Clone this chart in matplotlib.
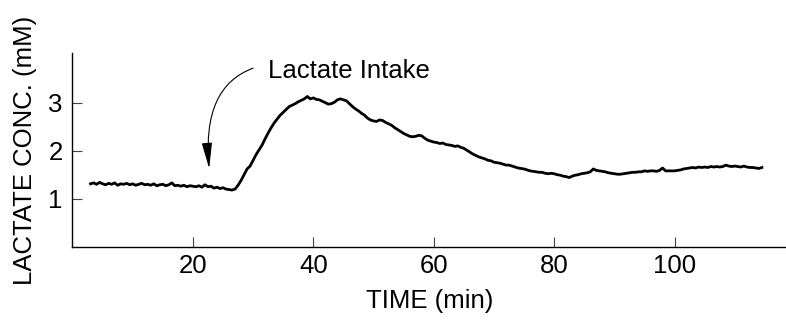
import numpy as np
import matplotlib
matplotlib.use("Agg")
import matplotlib.pyplot as plt

# sampling of the trace (minutes)
time_start = 3.0
time_step = 0.5

# lactate concentration (mM), every 0.5 min
conc = [
    # 3.0 - 14.5
    1.31, 1.33, 1.30, 1.34, 1.31, 1.29, 1.32, 1.30, 1.33, 1.28, 1.31, 1.30,
    1.32, 1.29, 1.31, 1.28, 1.30, 1.32, 1.29, 1.30, 1.28, 1.31, 1.27, 1.29,
    # 15.0 - 26.5
    1.30, 1.27, 1.29, 1.33, 1.27, 1.28, 1.26, 1.28, 1.25, 1.27, 1.26, 1.25,
    1.27, 1.24, 1.29, 1.25, 1.26, 1.22, 1.24, 1.21, 1.23, 1.20, 1.19, 1.18,
    # 27.0 - 38.5
    1.20, 1.28, 1.38, 1.50, 1.62, 1.68, 1.80, 1.92, 2.02, 2.12, 2.25, 2.37,
    2.48, 2.58, 2.66, 2.74, 2.80, 2.86, 2.92, 2.95, 2.98, 3.02, 3.05, 3.08,
    # 39.0 - 50.5
    3.13, 3.08, 3.10, 3.07, 3.06, 3.03, 3.00, 2.97, 2.98, 3.01, 3.06, 3.08,
    3.06, 3.04, 2.98, 2.92, 2.87, 2.83, 2.78, 2.74, 2.68, 2.64, 2.62, 2.61,
    # 51.0 - 62.5
    2.64, 2.63, 2.59, 2.56, 2.53, 2.48, 2.44, 2.40, 2.36, 2.33, 2.30, 2.29,
    2.30, 2.32, 2.31, 2.26, 2.22, 2.20, 2.18, 2.17, 2.15, 2.16, 2.13, 2.12,
    # 63.0 - 74.5
    2.11, 2.09, 2.10, 2.07, 2.05, 2.01, 1.97, 1.93, 1.90, 1.87, 1.85, 1.83,
    1.80, 1.79, 1.76, 1.75, 1.74, 1.72, 1.70, 1.70, 1.68, 1.66, 1.64, 1.63,
    # 75.0 - 86.5
    1.62, 1.60, 1.58, 1.57, 1.56, 1.55, 1.55, 1.53, 1.52, 1.53, 1.52, 1.50,
    1.49, 1.47, 1.46, 1.44, 1.47, 1.49, 1.50, 1.52, 1.53, 1.54, 1.56, 1.62,
    # 87.0 - 98.5
    1.59, 1.58, 1.57, 1.56, 1.54, 1.53, 1.52, 1.51, 1.51, 1.52, 1.53, 1.54,
    1.55, 1.55, 1.56, 1.56, 1.58, 1.57, 1.58, 1.58, 1.57, 1.59, 1.64, 1.58,
    # 99.0 - 110.5
    1.58, 1.58, 1.58, 1.59, 1.60, 1.62, 1.63, 1.64, 1.65, 1.64, 1.66, 1.65,
    1.66, 1.65, 1.67, 1.66, 1.67, 1.66, 1.67, 1.70, 1.68, 1.67, 1.68, 1.67,
    # 111.0 - 114.5
    1.66, 1.68, 1.66, 1.65, 1.65, 1.64, 1.63, 1.65,
]
time = time_start + time_step * np.arange(len(conc))

x_ticks = [20, 40, 60, 80, 100]
y_ticks = [1, 2, 3]

# arrow: tip near the intake time, tail next to the label
intake_time = 22.7
intake_conc = 1.63
label_pos = (32.4, 3.52)
tail_pos = (30.0, 3.72)

plt.rcParams['font.family'] = ['Liberation Sans', 'DejaVu Sans']

fig = plt.figure(figsize=(7.86, 3.21), dpi=100)
ax = fig.add_axes([0.0922, 0.2315, 0.9078, 0.6025])

ax.plot(time, conc, color='black', lw=2.0)

ax.set_xlim(0, 118.5)
ax.set_ylim(0, 4.03)
ax.set_xticks(x_ticks)
ax.set_yticks(y_ticks)
ax.tick_params(axis='both', direction='in', length=7.5, width=0.8,
               color='#444444', labelsize=18.5)
ax.tick_params(axis='x', pad=5)
ax.tick_params(axis='y', pad=7)

for side in ['top', 'right']:
    ax.spines[side].set_visible(False)
for side in ['left', 'bottom']:
    ax.spines[side].set_linewidth(1.0)

ax.set_xlabel('TIME (min)', fontsize=18.5, labelpad=8)
ax.set_ylabel('LACTATE CONC. (mM)', fontsize=18.5, labelpad=8)

# annotation
ax.text(label_pos[0], label_pos[1], 'Lactate Intake', fontsize=18.5, ha='left', va='baseline')
ax.annotate('', xy=(intake_time, intake_conc), xytext=tail_pos,
            arrowprops=dict(arrowstyle='-|>,head_length=1.6,head_width=0.32',
                            connectionstyle='angle3,angleA=20,angleB=95',
                            color='black', lw=0.8, mutation_scale=10,
                            shrinkA=0, shrinkB=0))

plt.savefig('out.png', dpi=100)
plt.close()
